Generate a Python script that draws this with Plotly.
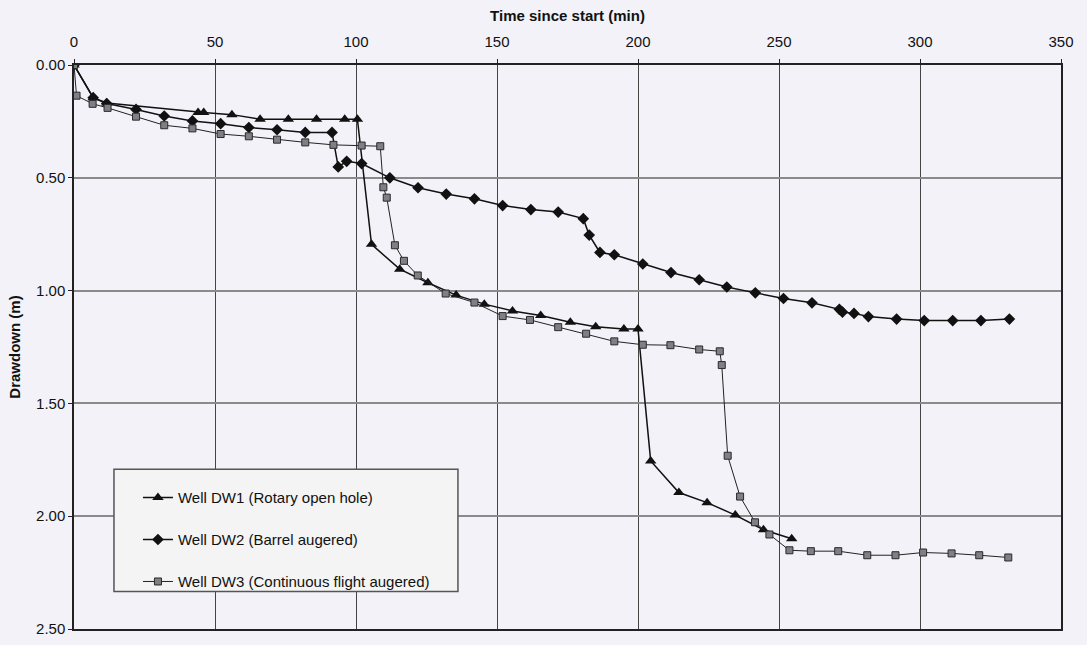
import plotly.graph_objects as go

# Drawdown observations (time in minutes, drawdown in metres)
dw1_time = [0, 6.8, 11.6, 44, 46, 56, 66, 76, 86, 96, 100.5, 105.5, 115.5, 125.5,
            135.5, 145.5, 155.5, 165.5, 176, 185, 195, 200, 204.5, 214.5, 224.5,
            234.5, 244.5, 254.5]
dw1_drawdown = [0, 0.145, 0.168, 0.21, 0.21, 0.22, 0.24, 0.24, 0.24, 0.24, 0.24,
                0.795, 0.905, 0.965, 1.02, 1.06, 1.09, 1.11, 1.14, 1.16, 1.17, 1.17,
                1.755, 1.895, 1.94, 1.995, 2.06, 2.10]

dw2_time = [0, 6.8, 11.6, 22, 32, 42, 52, 62, 72, 82, 91.5, 93.7, 96.7, 102, 112,
            122, 132, 142, 152, 162, 171.7, 180.6, 182.7, 186.5, 191.6, 201.7, 211.7,
            221.7, 231.5, 241.6, 251.6, 261.7, 271.4, 272.5, 276.6, 281.7, 291.7,
            301.5, 311.6, 321.6, 331.7]
dw2_drawdown = [0, 0.145, 0.171, 0.197, 0.226, 0.248, 0.26, 0.277, 0.287, 0.299,
                0.299, 0.452, 0.427, 0.437, 0.50, 0.544, 0.572, 0.593, 0.623, 0.641,
                0.652, 0.681, 0.754, 0.831, 0.841, 0.882, 0.92, 0.952, 0.984, 1.01,
                1.035, 1.054, 1.083, 1.095, 1.101, 1.115, 1.126, 1.133, 1.133, 1.133,
                1.126]

dw3_time = [0, 0.9, 6.6, 11.9, 22, 32, 42, 52, 62, 72, 82, 92, 102, 108.6, 109.7,
            110.9, 113.8, 117, 121.9, 131.8, 142, 152, 161.7, 171.7, 181.6, 191.6,
            201.7, 211.5, 221.7, 229, 229.7, 231.8, 236.2, 241.5, 246.6, 253.7, 261.3,
            271, 281.3, 291.3, 301.1, 311.2, 321, 331.3]
dw3_drawdown = [0, 0.136, 0.172, 0.19, 0.229, 0.267, 0.281, 0.306, 0.316, 0.331,
                0.343, 0.354, 0.357, 0.36, 0.542, 0.588, 0.799, 0.868, 0.933, 1.013,
                1.053, 1.113, 1.13, 1.162, 1.191, 1.225, 1.24, 1.242, 1.261, 1.269,
                1.33, 1.732, 1.913, 2.027, 2.081, 2.151, 2.155, 2.155, 2.173, 2.173,
                2.161, 2.165, 2.173, 2.183]

series_names = ["Well DW1 (Rotary open hole)",
                "Well DW2 (Barrel augered)",
                "Well DW3 (Continuous flight augered)"]

x_ticks = [0, 50, 100, 150, 200, 250, 300, 350]
y_ticks = [0.0, 0.5, 1.0, 1.5, 2.0, 2.5]

FONT = "Arial, Liberation Sans, Helvetica, sans-serif"
BG = "#f2f2f8"

fig = go.Figure()

fig.add_trace(go.Scatter(
    x=dw1_time, y=dw1_drawdown, name=series_names[0], legendgroup="dw1",
    mode="lines+markers",
    line=dict(color="#111111", width=1.5),
    marker=dict(symbol="triangle-up", size=10, color="#111111"),
))
fig.add_trace(go.Scatter(
    x=dw2_time, y=dw2_drawdown, name=series_names[1], legendgroup="dw2",
    mode="lines+markers",
    line=dict(color="#111111", width=1.5),
    marker=dict(symbol="diamond", size=9, color="#111111"),
))
fig.add_trace(go.Scatter(
    x=dw3_time, y=dw3_drawdown, name=series_names[2], legendgroup="dw3",
    mode="lines+markers",
    line=dict(color="#222222", width=1),
    marker=dict(symbol="square", size=7, color="#7f7f86",
                line=dict(color="#2a2a2a", width=1)),
))

# Legend frame
fig.add_shape(type="rect", xref="paper", yref="paper",
              x0=0.0405, x1=0.389, y0=0.0664, y1=0.2832,
              fillcolor="#f4f4f4", line=dict(color="#555555", width=1.5),
              layer="above")

fig.update_layout(
    width=1087, height=645,
    margin=dict(l=74, r=26, t=65, b=8),
    paper_bgcolor=BG, plot_bgcolor=BG,
    font=dict(family=FONT, size=15, color="#111111"),
    showlegend=True,
    legend=dict(
        x=0.0648, y=0.262, xanchor="left", yanchor="top",
        bgcolor="rgba(0,0,0,0)", borderwidth=0,
        tracegroupgap=19.5,
        font=dict(family=FONT, size=15, color="#111111"),
    ),
    xaxis=dict(
        side="top", range=[0, 350], tickvals=x_ticks,
        ticktext=[str(v) for v in x_ticks],
        ticks="outside", ticklen=4, tickcolor="#222222",
        ticklabelstandoff=6,
        tickfont=dict(family=FONT, size=15),
        showline=True, linecolor="#222222", linewidth=1.5, mirror=True,
        showgrid=True, gridcolor="#444444", gridwidth=1,
        zeroline=False,
        title=dict(text="<b>Time since start (min)</b>", standoff=8,
                   font=dict(family=FONT, size=15)),
    ),
    yaxis=dict(
        range=[2.5, 0], tickvals=y_ticks,
        ticktext=[f"{v:.2f}" for v in y_ticks],
        ticks="outside", ticklen=4, tickcolor="#222222",
        tickfont=dict(family=FONT, size=15),
        showline=True, linecolor="#222222", linewidth=1.5, mirror=True,
        showgrid=True, gridcolor="#8a8a8a", gridwidth=1.5,
        zeroline=False,
        title=dict(text="<b>Drawdown (m)</b>", standoff=12,
                   font=dict(family=FONT, size=15)),
    ),
)

fig.write_html("out.html")
